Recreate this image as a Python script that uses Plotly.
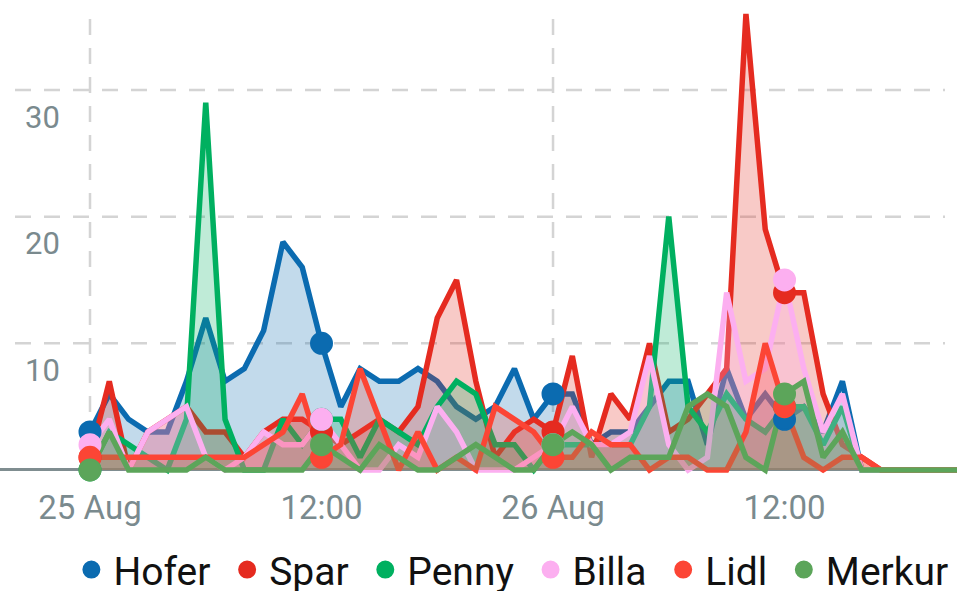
import plotly.graph_objects as go
from datetime import datetime, timedelta

# ---------------- data ----------------
start = datetime(2024, 8, 25, 0, 0)
hours = list(range(0, 46))
times = [start + timedelta(hours=h) for h in hours]

hofer = [3, 6, 4, 3, 3, 7, 12, 7, 8, 11,
         18, 16, 10, 5, 8, 7, 7, 8, 7, 5,
         4, 5, 8, 4, 6, 6, 2, 3, 3, 5,
         7, 7, 2, 8, 4, 6, 4, 5, 3, 7,
         0, 0, 0, 0, 0, 0]
spar = [1, 7, 0, 3, 4, 5, 3, 3, 1, 3,
        4, 4, 3, 2, 3, 4, 3, 5, 12, 15,
        7, 1, 3, 4, 3, 9, 1, 6, 4, 10,
        3, 4, 6, 8, 36, 19, 14, 14, 6, 2,
        1, 0, 0, 0, 0, 0]
penny = [0, 3, 2, 1, 0, 4, 29, 4, 0, 0,
         4, 2, 4, 4, 1, 4, 3, 2, 5, 7,
         6, 2, 2, 0, 2, 2, 2, 2, 2, 5,
         20, 5, 3, 6, 4, 3, 5, 5, 2, 5,
         0, 0, 0, 0, 0, 0]
billa = [2, 4, 0, 3, 4, 5, 1, 0, 1, 3,
         2, 2, 4, 2, 0, 0, 2, 1, 5, 3,
         0, 0, 0, 1, 2, 5, 2, 2, 3, 9,
         2, 0, 1, 14, 7, 8, 15, 8, 3, 6,
         0, 0, 0, 0, 0, 0]
lidl = [1, 1, 1, 1, 1, 1, 1, 1, 1, 2,
        3, 6, 1, 2, 8, 4, 0, 3, 0, 1,
        0, 5, 4, 3, 1, 1, 3, 2, 2, 0,
        1, 1, 0, 0, 3, 10, 5, 1, 0, 1,
        1, 0, 0, 0, 0, 0]
merkur = [0, 3, 0, 0, 0, 0, 1, 0, 0, 0,
          0, 0, 2, 1, 0, 2, 1, 0, 0, 1,
          2, 1, 0, 0, 2, 3, 2, 0, 1, 1,
          1, 5, 6, 5, 1, 0, 6, 7, 1, 3,
          0, 0, 0, 0, 0, 0]

names = ["Hofer", "Spar", "Penny", "Billa", "Lidl", "Merkur"]
values = [hofer, spar, penny, billa, lidl, merkur]
colors = ["#0b6bb0", "#e52b20", "#00b060", "#fcaff0", "#fc4535", "#5ca55a"]

tick_times = [start + timedelta(hours=h) for h in (0, 12, 24, 36)]
tick_text = ["25 Aug", "12:00", "26 Aug", "12:00"]
y_ticks = [10, 20, 30]
day_lines = [start, start + timedelta(hours=24)]
marker_hours = [0, 12, 24, 36]

GRAY = "#7a8a8e"
GRID = "#d4d4d4"
NBSP = "\u00a0"


def rgba(hex_color, a):
    h = hex_color.lstrip("#")
    r, g, b = int(h[0:2], 16), int(h[2:4], 16), int(h[4:6], 16)
    return f"rgba({r},{g},{b},{a})"


fig = go.Figure()

for name, vals, col in zip(names, values, colors):
    fig.add_trace(go.Scatter(
        x=times, y=vals, mode="lines", name=name,
        line=dict(color=col, width=5.5),
        fill="tozeroy", fillcolor=rgba(col, 0.25),
        showlegend=False, hoverinfo="skip",
    ))

for name, vals, col in zip(names, values, colors):
    fig.add_trace(go.Scatter(
        x=[times[h] for h in marker_hours],
        y=[vals[h] for h in marker_hours],
        mode="markers", name=name + NBSP,
        marker=dict(color=col, size=21, line=dict(color=col, width=2)),
        showlegend=True, cliponaxis=False,
    ))

shapes = []
for yv in y_ticks:
    shapes.append(dict(type="line", xref="paper", yref="y",
                       x0=15 / 957, x1=945 / 957, y0=yv, y1=yv,
                       line=dict(color=GRID, width=2.5, dash="16px,13px"),
                       layer="below"))
for d in day_lines:
    shapes.append(dict(type="line", xref="x", yref="paper",
                       x0=d, x1=d, y0=10 / 480, y1=470 / 480,
                       line=dict(color=GRID, width=2.5, dash="16px,13px"),
                       layer="below"))

fig.update_layout(
    width=957, height=591,
    margin=dict(l=0, r=0, t=0, b=111, autoexpand=False),
    paper_bgcolor="white", plot_bgcolor="white",
    font=dict(family="Roboto", color=GRAY),
    shapes=shapes,
    showlegend=True,
    legend=dict(
        orientation="h", x=0.0725, xanchor="left", y=-0.187, yanchor="middle",
        font=dict(family="Roboto", size=39, color="#111111"),
        itemwidth=34, bgcolor="rgba(0,0,0,0)",
    ),
    xaxis=dict(
        type="date", automargin=False,
        range=[start - timedelta(hours=4.665), start + timedelta(hours=44.94)],
        tickvals=tick_times, ticktext=tick_text,
        showgrid=False, zeroline=False, showline=False, ticks="",
        tickfont=dict(family="Roboto", size=33, color=GRAY),
        ticklabelstandoff=5,
    ),
    yaxis=dict(
        range=[-0.79, 37.1], automargin=False,
        tickvals=y_ticks, ticktext=[str(v) for v in y_ticks],
        showgrid=False, zeroline=True, zerolinecolor="#7f8d90", zerolinewidth=3,
        showline=False, ticks="",
        ticklabelposition="inside", ticklabelshift=27, ticklabelstandoff=22,
        tickfont=dict(family="Roboto", size=31, color=GRAY),
    ),
)

fig.write_html("out.html",
               config={"displayModeBar": False},
               post_script="document.body.style.margin='0px';document.body.style.overflow='hidden';")
